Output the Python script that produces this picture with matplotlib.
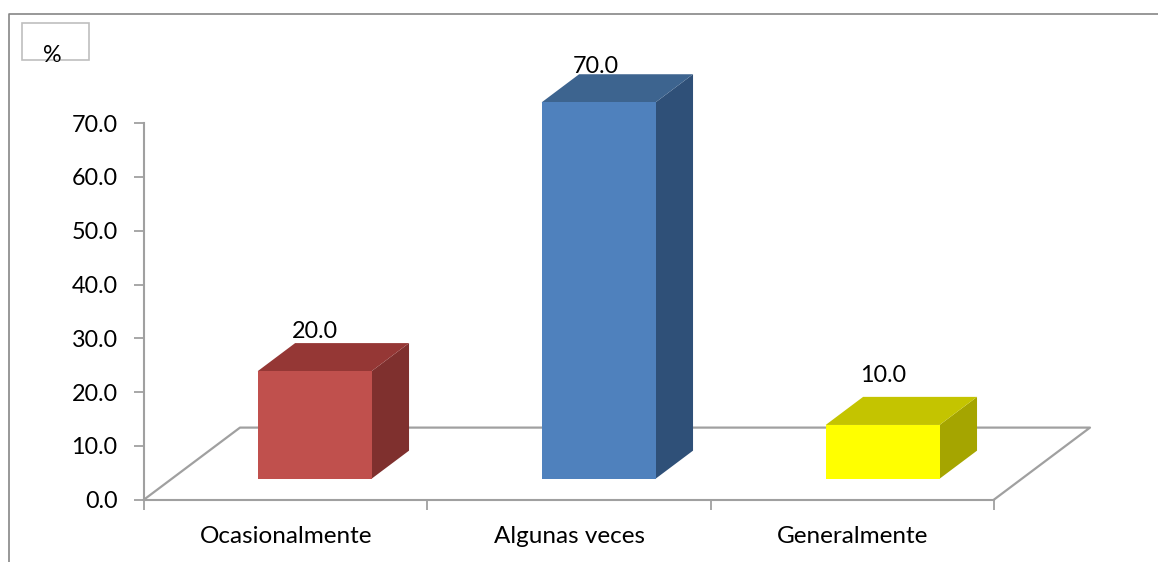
import matplotlib
matplotlib.use("Agg")
import matplotlib.pyplot as plt
from matplotlib.patches import Polygon, Rectangle
from matplotlib.lines import Line2D

categories = ["Ocasionalmente", "Algunas veces", "Generalmente"]
values = [20.0, 70.0, 10.0]
y_ticks = [0, 10, 20, 30, 40, 50, 60, 70]
front_colors = ["#C0504D", "#4F81BD", "#FFFF00"]
top_colors = ["#953735", "#3D648F", "#C4C400"]
side_colors = ["#7F302E", "#2F5078", "#A5A500"]
label_offsets_px = [(0, 40), (-3, 36), (1, 49)]

W, H = 1158, 562
L, R, B, T = 144, 994, 499.6, 123.2
GRAY = "#A0A0A0"
FS = 16.8

plt.rcParams["font.family"] = ["Lato", "DejaVu Sans"]
fig = plt.figure(figsize=(W / 100, H / 100), dpi=100)
ax = fig.add_axes([L / W, 1 - B / H, (R - L) / W, (B - T) / H])
ax.set_xlim(0, 3)
ax.set_ylim(0, 70)
ax.patch.set_visible(False)

# oblique depth of the floor, in data units
floor_dx = 96 / ((R - L) / 3)
floor_dy = 72 / ((B - T) / 70)
near, far = 0.29, 0.68
bar_w = 0.402
bar_step = 284 / ((R - L) / 3)

for s in ("top", "right"):
    ax.spines[s].set_visible(False)
for s in ("left", "bottom"):
    ax.spines[s].set_color(GRAY)
    ax.spines[s].set_linewidth(1.5)

ax.set_yticks(y_ticks)
ax.set_yticklabels([f"{v:.1f}" for v in y_ticks], fontsize=FS, color="black")
ax.set_xticks([0, 1, 2, 3])
ax.set_xticklabels([])
ax.set_xticks([0.5, 1.5, 2.5], minor=True)
ax.set_xticklabels(categories, minor=True, fontsize=FS + 0.7, color="black")
ax.tick_params(axis="x", which="minor", length=0, pad=19)
ax.tick_params(axis="y", which="major", length=7, width=1.3, color=GRAY, pad=12)
ax.tick_params(axis="x", which="major", length=7, width=1.3, color=GRAY)

ax.add_line(Line2D([0, floor_dx, 3 + floor_dx, 3], [0, floor_dy, floor_dy, 0],
                   color=GRAY, lw=1.6, clip_on=False, zorder=1))

for i, v in enumerate(values):
    x0 = i * bar_step + 0.5 - bar_w / 2 + 0.004
    x1 = x0 + bar_w
    ox, oy = near * floor_dx, near * floor_dy
    x0n, x1n = x0 + ox, x1 + ox
    y0n, y1n = oy, oy + v
    ddx, ddy = (far - near) * floor_dx, (far - near) * floor_dy
    ax.add_patch(Polygon([(x1n, y0n), (x1n + ddx, y0n + ddy), (x1n + ddx, y1n + ddy), (x1n, y1n)],
                         fc=side_colors[i], ec="none", clip_on=False, zorder=3))
    ax.add_patch(Polygon([(x0n, y1n), (x0n + ddx, y1n + ddy), (x1n + ddx, y1n + ddy), (x1n, y1n)],
                         fc=top_colors[i], ec="none", clip_on=False, zorder=3))
    ax.add_patch(Rectangle((x0n, y0n), bar_w, v, fc=front_colors[i], ec="none",
                           clip_on=False, zorder=4))
    dx, dy = label_offsets_px[i]
    ax.annotate(f"{v:.1f}", xy=((x0n + x1n) / 2, y1n), xytext=(dx * 0.72, dy * 0.72),
                textcoords="offset points", ha="center", va="center",
                fontsize=FS, color="black", zorder=6, annotation_clip=False)

# outer frame and small box
fig.add_artist(Line2D([9 / W, 9 / W, 1], [0, 1 - 14 / H, 1 - 14 / H],
                      color="#868686", lw=1.2, transform=fig.transFigure))
fig.add_artist(Rectangle((22 / W, 1 - 60 / H), 67 / W, 37 / H, fc="white", ec="#BFBFBF",
                         lw=1.2, transform=fig.transFigure))
fig.text(52 / W, 1 - 55 / H, "%", ha="center", va="center", fontsize=FS, color="black")

fig.savefig("out.png", dpi=100)
